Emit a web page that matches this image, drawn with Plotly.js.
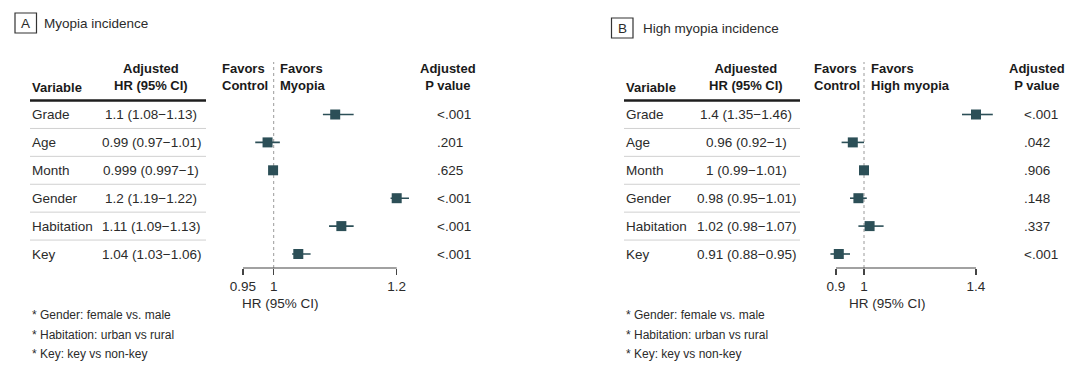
<!DOCTYPE html>
<html>
<head>
<meta charset="utf-8">
<script src="https://cdn.plot.ly/plotly-3.0.1.min.js"></script>
<style>html,body{margin:0;padding:0;background:#fff;}#chart{width:1080px;height:376px;}</style>
</head>
<body>
<div id="chart"></div>
<script>
// ---------- DATA ----------
const variables = ["Grade", "Age", "Month", "Gender", "Habitation", "Key"];

const hrA    = [1.1, 0.99, 0.999, 1.2, 1.11, 1.04];
const loA    = [1.08, 0.97, 0.997, 1.19, 1.09, 1.03];
const hiA    = [1.13, 1.01, 1, 1.22, 1.13, 1.06];
const hrTextA = ["1.1 (1.08\u22121.13)", "0.99 (0.97\u22121.01)", "0.999 (0.997\u22121)", "1.2 (1.19\u22121.22)", "1.11 (1.09\u22121.13)", "1.04 (1.03\u22121.06)"];
const pA     = ["<.001", ".201", ".625", "<.001", "<.001", "<.001"];
const ticksA = [0.95, 1, 1.2];
const ticksTextA = ["0.95", "1", "1.2"];

const hrB    = [1.4, 0.96, 1, 0.98, 1.02, 0.91];
const loB    = [1.35, 0.92, 0.99, 0.95, 0.98, 0.88];
const hiB    = [1.46, 1, 1.01, 1.01, 1.07, 0.95];
const hrTextB = ["1.4 (1.35\u22121.46)", "0.96 (0.92\u22121)", "1 (0.99\u22121.01)", "0.98 (0.95\u22121.01)", "1.02 (0.98\u22121.07)", "0.91 (0.88\u22120.95)"];
const pB     = ["<.001", ".042", ".906", ".148", ".337", "<.001"];
const ticksB = [0.9, 1, 1.4];
const ticksTextB = ["0.9", "1", "1.4"];

const footnotes = ["* Gender: female vs. male", "* Habitation: urban vs rural", "* Key: key vs non-key"];

// ---------- LAYOUT HELPERS ----------
const W = 1080, H = 376;
const FONT = "Liberation Sans, Arial, Helvetica, sans-serif";
const TXT = "#2b2b2b";
const MARK = "#2c4f57";
const px = x => x / W;
const py = y => 1 - y / H;
const rows = variables.map((_, i) => i);

const plotBottom = py(268), plotTop = py(62);

function trace(hr, lo, hi, xa) {
  return {
    type: "scatter", mode: "markers", xaxis: xa, yaxis: "y",
    x: hr, y: rows,
    marker: {symbol: "square", size: 10, color: MARK},
    error_x: {type: "data", symmetric: false,
      array: hi.map((h, i) => h - hr[i]),
      arrayminus: lo.map((l, i) => hr[i] - l),
      color: MARK, thickness: 1.6, width: 0},
    cliponaxis: false, hoverinfo: "skip", showlegend: false
  };
}

const annotations = [];
const shapes = [];
function txt(x, y, text, opts) {
  annotations.push(Object.assign({x: x, y: y, xref: "paper", yref: "paper", text: text,
    showarrow: false, xanchor: "left", yanchor: "middle",
    font: {family: FONT, size: 13.5, color: TXT}}, opts || {}));
}

function panel(cfg) {
  // title box + title
  shapes.push({type: "rect", xref: "paper", yref: "paper",
    x0: px(cfg.boxX0), x1: px(cfg.boxX1), y0: py(cfg.boxY1), y1: py(cfg.boxY0),
    line: {color: "#333", width: 1.2}, fillcolor: "rgba(0,0,0,0)"});
  txt(px((cfg.boxX0 + cfg.boxX1) / 2), py((cfg.boxY0 + cfg.boxY1) / 2 + 0.5), cfg.letter,
    {xanchor: "center", font: {family: FONT, size: 13.5, color: TXT}});
  txt(px(cfg.titleX), py((cfg.boxY0 + cfg.boxY1) / 2 + 0.5), cfg.title);

  // headers
  const bold = {family: FONT, size: 13, color: "#1a1a1a"};
  txt(px(cfg.varX), py(87.5), "<b>Variable</b>", {font: bold});
  txt(px(cfg.hrX), py(77.5), "<b>" + cfg.hrHead + "</b><br><b>HR (95% CI)</b>", {xanchor: "center", align: "center", font: bold});
  txt(px(cfg.favX), py(77.5), "<b>Favors</b><br><b>Control</b>", {align: "left", font: bold});
  txt(px(cfg.fav2X), py(77.5), "<b>Favors</b><br><b>" + cfg.favName + "</b>", {align: "left", font: bold});
  txt(px(cfg.pX), py(77.5), "<b>Adjusted</b><br><b>P value</b>", {xanchor: "center", align: "center", font: bold});

  // header rule and row separators
  shapes.push({type: "line", xref: "paper", yref: "y", x0: px(cfg.varX), x1: px(cfg.tableEnd),
    y0: -0.5, y1: -0.5, line: {color: "#1e1e1e", width: 2.6}});
  for (let i = 0; i < variables.length - 1; i++) {
    shapes.push({type: "line", xref: "paper", yref: "y", x0: px(cfg.varX), x1: px(cfg.tableEnd),
      y0: i + 0.5, y1: i + 0.5, line: {color: "#d0d0d0", width: 1}});
  }

  // rows
  variables.forEach((v, i) => {
    annotations.push({x: px(cfg.varX), y: i, xref: "paper", yref: "y", text: v, showarrow: false,
      xanchor: "left", yanchor: "middle", font: {family: FONT, size: 13.5, color: TXT}});
    annotations.push({x: px(cfg.hrX), y: i, xref: "paper", yref: "y", text: cfg.hrText[i], showarrow: false,
      xanchor: "center", yanchor: "middle", font: {family: FONT, size: 13.5, color: TXT}});
    annotations.push({x: px(cfg.pValX), y: i, xref: "paper", yref: "y", text: cfg.p[i].replace("<", "&lt;"), showarrow: false,
      xanchor: "left", yanchor: "middle", font: {family: FONT, size: 13.5, color: TXT}});
  });

  // reference line at HR = 1
  shapes.push({type: "line", xref: cfg.xref, yref: "paper", x0: 1, x1: 1, y0: plotBottom, y1: plotTop,
    line: {color: "#9a9a9a", width: 1, dash: "dot"}, layer: "below"});
  // axis line spanning the ticks
  shapes.push({type: "line", xref: cfg.xref, yref: "paper",
    x0: Math.min(...cfg.ticks), x1: Math.max(...cfg.ticks), y0: plotBottom, y1: plotBottom,
    line: {color: "#444", width: 1.2}});

  // axis title
  txt(px(cfg.axisTitleX), py(303), "HR (95% CI)", {xanchor: "center"});

  // footnotes
  footnotes.forEach((f, i) => txt(px(cfg.varX), py(315 + i * 19.5), f, {font: {family: FONT, size: 12, color: TXT}}));
}

panel({letter: "A", title: "Myopia incidence", boxX0: 15, boxX1: 36.5, boxY0: 13, boxY1: 33, titleX: 42,
  varX: 30, hrX: 151, tableEnd: 206, favX: 220, fav2X: 277.5, favName: "Myopia", pX: 448, pValX: 434.5,
  hrHead: "Adjusted", hrText: hrTextA, p: pA, xref: "x", ticks: ticksA, axisTitleX: 280});
panel({letter: "B", title: "High myopia incidence", boxX0: 611.5, boxX1: 633, boxY0: 18, boxY1: 38, titleX: 641,
  varX: 624, hrX: 746, tableEnd: 800, favX: 812, fav2X: 869, favName: "High myopia", pX: 1036.5, pValX: 1021.5,
  hrHead: "Adjuested", hrText: hrTextB, p: pB, xref: "x2", ticks: ticksB, axisTitleX: 887});

// x-axis mappings: A: pixel = 273.7 + (v-1)*615 ; B: pixel = 864 + (v-1)*280
const rA = [0.93, 1.25], rB = [0.85, 1.5];
const dA = [px(273.7 + (rA[0] - 1) * 615), px(273.7 + (rA[1] - 1) * 615)];
const dB = [px(864 + (rB[0] - 1) * 280), px(864 + (rB[1] - 1) * 280)];

function xaxis(domain, range, vals, text) {
  return {domain: domain, range: range, anchor: "y", showgrid: false, zeroline: false, showline: false,
    tickmode: "array", tickvals: vals, ticktext: text, ticks: "outside", ticklen: 6, tickwidth: 1.2,
    tickcolor: "#444", tickfont: {family: FONT, size: 13.5, color: TXT}, fixedrange: true};
}

// rows: pixel = 114.5 + 27.9*i
const yTop = (62 - 114.5) / 27.9, yBot = (268 - 114.5) / 27.9;

const layout = {
  width: W, height: H, margin: {l: 0, r: 0, t: 0, b: 0},
  paper_bgcolor: "#fff", plot_bgcolor: "rgba(0,0,0,0)",
  xaxis: xaxis(dA, rA, ticksA, ticksTextA),
  xaxis2: xaxis(dB, rB, ticksB, ticksTextB),
  yaxis: {domain: [plotBottom, plotTop], range: [yBot, yTop], visible: false, fixedrange: true},
  shapes: shapes, annotations: annotations, showlegend: false
};

Plotly.newPlot("chart", [trace(hrA, loA, hiA, "x"), trace(hrB, loB, hiB, "x2")], layout,
  {displayModeBar: false, staticPlot: true});
</script>
</body>
</html>
